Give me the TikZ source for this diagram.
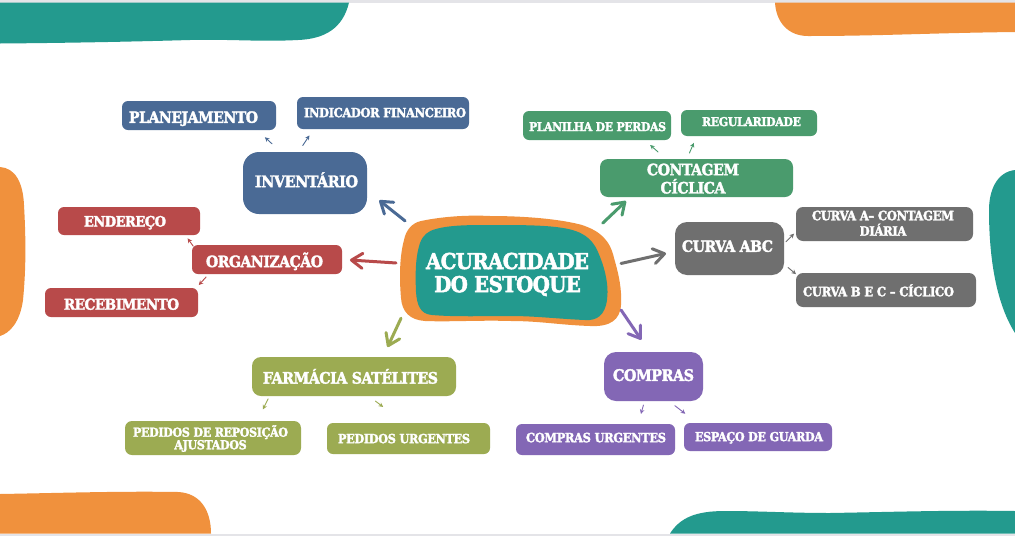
\documentclass[tikz,border=0pt]{standalone}
\usepackage{fontspec}
\usepackage{graphicx}
\setmainfont{DejaVu Serif Condensed}[BoldFeatures={FakeBold=2.2,LetterSpace=-3}]
\usetikzlibrary{arrows.meta}
\definecolor{cteal}{HTML}{239A8E}
\definecolor{corange}{HTML}{F0913D}
\definecolor{cblue}{HTML}{4A6A95}
\definecolor{cred}{HTML}{B84A4A}
\definecolor{cgreen}{HTML}{4A9B6D}
\definecolor{cgray}{HTML}{6F6F6F}
\definecolor{colive}{HTML}{9CAB52}
\definecolor{cpurple}{HTML}{8367B5}
\definecolor{cband}{HTML}{E4E4E8}
\newsavebox\tb
\newcommand\T[5][1]{\sbox\tb{\resizebox{#2pt}{!}{\fontsize{10}{11}\selectfont\bfseries\renewcommand\arraystretch{#1}\begin{tabular}{@{}c@{}}#5\end{tabular}}}\smash{\makebox[0pt]{\hspace*{\dimexpr #3pt*2\relax}\raisebox{\dimexpr(\dp\tb-\ht\tb)/2+#4pt-2.4pt\relax}{\usebox\tb}}}}
\tikzset{
 x=1pt,y=-1pt,
 bx/.style={rectangle,fill=#1,text=white,inner sep=0pt,outer sep=0pt,rounded corners=6pt},
 sz/.style 2 args={minimum width=#1pt,minimum height=#2pt},
 big/.style={line width=3pt,line cap=round,-{Straight Barb[round,length=11pt,width=15pt,line width=3pt]},#1},
 small/.style={line width=.9pt,line cap=round,-{Stealth[length=4.5pt,width=4.5pt]},#1},
}
\newcommand\conn[6]{\draw[#1,shorten <=#2pt,shorten >=#3pt] (#4) -- (#5.#6);}
\begin{document}
\begin{tikzpicture}
\useasboundingbox (0,0) rectangle (1015,536);
\fill[white] (0,0) rectangle (1015,536);
\fill[cband] (0,0) rectangle (1015,2.5);
\fill[cband] (0,533.5) rectangle (1015,536);
% decorative corner shapes
\fill[cteal] (0,2.5) -- (349,2.5) .. controls (343,28) and (325,39) .. (298,40) .. controls (260,42) and (230,39) .. (190,40) .. controls (120,42) and (60,43) .. (0,43.5) -- cycle;
\fill[corange] (775,2.5) -- (1015,2.5) -- (1015,32) .. controls (930,33) and (880,36) .. (808,36) .. controls (788,36) and (776,22) .. cycle;
\fill[corange] (0,494) .. controls (60,493) and (120,491) .. (178,492) .. controls (200,493) and (211,510) .. (211,533.5) -- (0,533.5) -- cycle;
\fill[cteal] (670,533.5) .. controls (680,518) and (695,511) .. (725,511) .. controls (760,511) and (790,513) .. (830,513) .. controls (890,512) and (950,510) .. (1015,511) -- (1015,533.5) -- cycle;
\fill[corange] (0,167) .. controls (15,168) and (23,182) .. (24,205) .. controls (26,240) and (26,270) .. (23,300) .. controls (20,322) and (10,333) .. (0,336) -- cycle;
\fill[cteal] (1015,170) .. controls (997,172) and (989,190) .. (989,210) .. controls (989,250) and (994,300) .. (1015,333) -- cycle;
% centre
\fill[corange] (421,221) .. controls (445,216) and (470,215) .. (490,216) .. controls (525,216) and (560,219) .. (582,225) .. controls (600,231) and (610,240) .. (614,258) .. controls (619,275) and (622,290) .. (621,305) .. controls (620,320) and (610,327) .. (590,326) .. controls (560,325) and (540,321) .. (511,321) .. controls (480,320) and (450,322) .. (425,321) .. controls (410,320) and (402,312) .. (401,298) .. controls (399,275) and (400,255) .. (404,240) .. controls (406,230) and (412,223) .. (421,221) -- cycle;
\fill[cteal] (436,229) .. controls (450,225) and (470,225) .. (490,225) .. controls (520,225) and (545,225) .. (563,228) .. controls (582,231) and (592,238) .. (598,252) .. controls (605,268) and (609,285) .. (607,300) .. controls (605,315) and (597,321) .. (585,320) .. controls (560,319) and (535,316) .. (511,316) .. controls (485,316) and (455,317) .. (432,315) .. controls (420,314) and (417,305) .. (416,292) .. controls (415,270) and (416,255) .. (420,243) .. controls (423,235) and (428,231) .. (436,229) -- cycle;
\node[rectangle,text=white,inner sep=0,outer sep=0,sz={222}{110}] (cen) at (511,271) {\T[.95]{163}{-3.5}{-2.5}{ACURACIDADE\\DO ESTOQUE}};
% main branches
\node[bx=cblue,sz={124}{62},rounded corners=16pt] (inv) at (305,183) {\T{103}{1.5}{3}{INVENTÁRIO}};
\node[bx=cred,sz={150}{29}] (org) at (267,259.5) {\T{117}{-2.5}{-.5}{ORGANIZAÇÃO}};
\node[bx=cgreen,sz={193}{38},rounded corners=8pt] (cont) at (696.5,178) {\T[.72]{92}{-3.5}{0}{CONTAGEM\\CÍCLICA}};
\node[bx=cgray,sz={109}{53},rounded corners=12pt] (abc) at (729.5,248.5) {\T{91}{-2}{2.5}{CURVA ABC}};
\node[bx=colive,sz={204}{39},rounded corners=9pt] (farm) at (354,376.5) {\T{175}{-3.5}{0}{FARMÁCIA SATÉLITES}};
\node[bx=cpurple,sz={99}{49},rounded corners=12pt] (comp) at (653.5,376.5) {\T{81}{0}{1.5}{COMPRAS}};
% leaves
\node[bx=cblue,sz={154}{29}] (plan) at (199,115.5) {\T{129}{-5.5}{-1.5}{PLANEJAMENTO}};
\node[bx=cblue,sz={172}{32}] (indic) at (383,113) {\T{162}{2}{1}{INDICADOR FINANCEIRO}};
\node[bx=cred,sz={142}{28}] (ende) at (129,221) {\T{82}{-4}{0}{ENDEREÇO}};
\node[bx=cred,sz={153}{29}] (rec) at (121.5,302.5) {\T{115}{0}{-1.5}{RECEBIMENTO}};
\node[bx=cgreen,sz={148}{29}] (plani) at (597,125.5) {\T{137}{.5}{-.5}{PLANILHA DE PERDAS}};
\node[bx=cgreen,sz={136}{26}] (reg) at (749,123) {\T{99}{2.5}{2}{REGULARIDADE}};
\node[bx=cgray,sz={177}{34},rounded corners=7pt] (ca) at (884.5,224) {\T[.8]{142}{-1.5}{1.5}{CURVA A– CONTAGEM\\DIÁRIA}};
\node[bx=cgray,sz={180}{34},rounded corners=7pt] (cb) at (886,290) {\T{151}{-7.5}{0}{CURVA B E C – CÍCLICO}};
\node[bx=colive,sz={176}{34},rounded corners=7pt] (ped) at (213,438) {\T[.82]{155}{-2.5}{1.5}{PEDIDOS DE REPOSIÇÃO\\AJUSTADOS}};
\node[bx=colive,sz={163}{31}] (urg) at (408.5,438.5) {\T{132}{-4.5}{.5}{PEDIDOS URGENTES}};
\node[bx=cpurple,sz={159}{31}] (cu) at (595.5,439.5) {\T{140}{.5}{2.5}{COMPRAS URGENTES}};
\node[bx=cpurple,sz={148}{28}] (esp) at (758,437) {\T{128}{1}{1}{ESPAÇO DE GUARDA}};
% large arrows
\conn{big=cblue}{-6.5}{15.7}{cen.154.8}{inv}{-7.2}
\conn{big=cred}{4}{8}{cen.176}{org}{-0.9}
\conn{big=cgreen}{-10.3}{5.9}{cen.29.9}{cont}{-164.6}
\conn{big=cgray}{-1}{9.2}{cen.4.2}{abc}{-177.4}
\conn{big=cpurple}{-1.7}{14.8}{cen.-20.9}{comp}{99}
\conn{big=colive}{-2.4}{11}{cen.-156.6}{farm}{34.6}
% small arrows
\conn{small=cblue}{12}{10.6}{inv.128.9}{plan}{-14.5}
\conn{small=cblue}{7.7}{7.7}{inv.102.9}{indic}{-167.9}
\conn{small=cred}{-1.4}{4.2}{org.169.1}{ende}{-14.8}
\conn{small=cred}{4}{4}{org.-166.9}{rec}{11.6}
\conn{small=cgreen}{10.6}{7.6}{cont.148.1}{plani}{-17}
\conn{small=cgreen}{6.5}{7.5}{cont.117.5}{reg}{-166.3}
\conn{small=cgray}{2.8}{2.8}{abc.5.8}{ca}{-175.5}
\conn{small=cgray}{5.3}{0}{abc.-16.4}{cb}{170.5}
\conn{small=colive}{3.2}{12.9}{farm.-167.5}{ped}{21.5}
\conn{small=colive}{8.4}{26.6}{farm.-53.7}{urg}{105.2}
\conn{small=cpurple}{4.2}{10.5}{comp.-110.6}{cu}{20.6}
\conn{small=cpurple}{7.6}{15.2}{comp.-58.9}{esp}{167.8}
\end{tikzpicture}
\end{document}
